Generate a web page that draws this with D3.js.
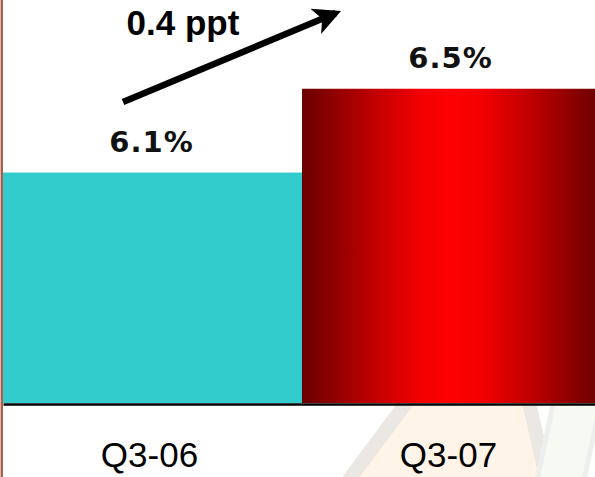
<!DOCTYPE html>
<html><head><meta charset="utf-8">
<script src="https://cdn.jsdelivr.net/npm/d3@7"></script>
<style>html,body{margin:0;padding:0;background:#fff;overflow:hidden}</style>
</head><body>
<svg id="c" width="595" height="477"></svg>
<script>
const categories = ["Q3-06", "Q3-07"];
const values = [6.1, 6.5];
const valueLabels = ["6.1%", "6.5%"];
const changeLabel = "0.4 ppt";

const svg = d3.select("#c");
const W = 595, H = 477;

// faint watermark logo (bottom right)
const wm = svg.append("g").attr("opacity", 0.13);
wm.append("path").attr("d", "M345,485 L410,398 L528,398 L548,485 Z")
  .attr("fill", "#ffb050").attr("stroke", "#6a5030").attr("stroke-width", 14).attr("stroke-linejoin", "round");
wm.append("rect").attr("x", 545).attr("y", 390).attr("width", 46).attr("height", 110).attr("rx", 20)
  .attr("fill", "#c8e0a8").attr("stroke", "#808870").attr("stroke-width", 5)
  .attr("transform", "rotate(12,568,445)");

const defs = svg.append("defs");
const grad = defs.append("linearGradient").attr("id", "redGrad").attr("x1", "0").attr("x2", "1").attr("y1", "0").attr("y2", "0");
[["0%", "#6a0000"], ["25%", "#c40000"], ["40%", "#f40000"], ["50%", "#ff0000"], ["60%", "#f40000"], ["75%", "#c40000"], ["100%", "#6a0000"]].forEach(s =>
  grad.append("stop").attr("offset", s[0]).attr("stop-color", s[1]));
const mk = defs.append("marker").attr("id", "arrow").attr("viewBox", "0 0 10 10")
  .attr("refX", 8).attr("refY", 5).attr("markerWidth", 4.2).attr("markerHeight", 4.2)
  .attr("markerUnits", "strokeWidth").attr("orient", "auto");
mk.append("path").attr("d", "M0,0 L10,5 L0,10 L2.5,5 Z").attr("fill", "#000");

const x = d3.scaleBand().domain(categories).range([3, 601]).padding(0);
const y = d3.scaleLinear().domain([5, 7]).range([403, -16]);

const fills = ["#33cccc", "url(#redGrad)"];
svg.selectAll("rect.bar").data(values).join("rect").attr("class", "bar")
  .attr("x", (d, i) => x(categories[i]))
  .attr("y", d => y(d))
  .attr("width", x.bandwidth())
  .attr("height", d => y(5) - y(d))
  .attr("fill", (d, i) => fills[i]);

// baseline axis
const ax = svg.append("g").attr("transform", "translate(0,404)")
  .call(d3.axisBottom(x).tickSize(0).tickSizeOuter(0).tickPadding(0));
ax.select(".domain").attr("stroke", "#000").attr("stroke-width", 2.5);
ax.selectAll(".tick text")
  .attr("dy", null).attr("y", 63).attr("dx", -3)
  .attr("fill", "#000")
  .style("font-family", "'Liberation Sans', Arial, sans-serif")
  .style("font-size", "35px");

// value labels
svg.selectAll("text.val").data(values).join("text").attr("class", "val")
  .attr("x", (d, i) => x(categories[i]) + x.bandwidth() / 2 - 1)
  .attr("y", d => y(d) - 21)
  .attr("text-anchor", "middle")
  .style("font-family", "'DejaVu Sans', Verdana, sans-serif")
  .style("font-weight", "bold")
  .style("font-size", "29px")
  .style("letter-spacing", "1px")
  .attr("fill", "#111")
  .text((d, i) => valueLabels[i]);

// arrow
svg.append("line")
  .attr("x1", 123).attr("y1", 102).attr("x2", 336).attr("y2", 13)
  .attr("stroke", "#000").attr("stroke-width", 6.5).attr("marker-end", "url(#arrow)");
svg.append("text").attr("x", 183).attr("y", 35).attr("text-anchor", "middle")
  .style("font-family", "'Liberation Sans', Arial, sans-serif")
  .style("font-weight", "bold").style("font-size", "35px")
  .attr("fill", "#000").text(changeLabel);

// left edge line
svg.append("rect").attr("x", 0).attr("y", 0).attr("width", 1).attr("height", H).attr("fill", "#e6b4a6");
svg.append("rect").attr("x", 1).attr("y", 0).attr("width", 2).attr("height", H).attr("fill", "#a8604e");
</script>
</body></html>
